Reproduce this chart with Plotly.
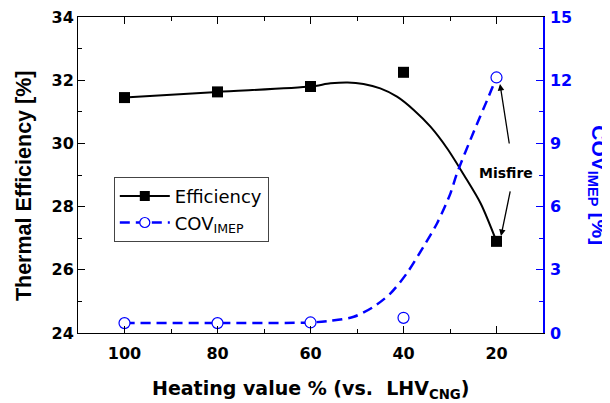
import plotly.graph_objects as go

# Measured data points
heating_value = [100, 80, 60, 40, 20]
efficiency = [31.45, 31.63, 31.8, 32.25, 26.9]
cov_imep = [0.47, 0.47, 0.5, 0.72, 12.13]

# Fitted curves as drawn in the reference
eff_fit_x = [100, 80, 60, 55.7, 52, 48.6, 45, 41.4, 37.8, 34.2, 30.6, 27, 23.4, 20]
eff_fit_y = [31.45, 31.63, 31.8, 31.9, 31.93, 31.88, 31.74, 31.48, 31.06, 30.53, 29.84, 29.0, 28.1, 26.9]
cov_fit_x = [100, 80, 60, 55.7, 50.7, 46.4, 42.8, 39.3, 35.7, 32.8, 29.9, 28.5, 24.9, 22.0, 20]
cov_fit_y = [0.48, 0.48, 0.5, 0.58, 0.77, 1.25, 1.88, 2.83, 4.1, 5.2, 6.63, 7.58, 9.55, 11.06, 12.13]

x_ticks = [100, 80, 60, 40, 20]
y_ticks = [24, 26, 28, 30, 32, 34]
y2_ticks = [0, 3, 6, 9, 12, 15]

FONT_H = "DejaVu Sans, sans-serif"            # horizontal texts
FONT_V = "Liberation Sans, Arial, sans-serif"  # rotated texts
BLUE = "#0000FF"

fig = go.Figure()

fig.add_trace(go.Scatter(x=eff_fit_x, y=eff_fit_y, mode="lines",
                         line=dict(color="black", width=2, shape="spline", smoothing=0.8),
                         showlegend=False, hoverinfo="skip"))
fig.add_trace(go.Scatter(x=cov_fit_x, y=cov_fit_y, mode="lines", yaxis="y2",
                         line=dict(color=BLUE, width=2.5, dash="10px,6px", shape="spline", smoothing=0.8),
                         showlegend=False, hoverinfo="skip"))
fig.add_trace(go.Scatter(x=heating_value, y=efficiency, mode="markers",
                         marker=dict(symbol="square", size=11, color="black"),
                         showlegend=False))
fig.add_trace(go.Scatter(x=heating_value, y=cov_imep, mode="markers", yaxis="y2",
                         marker=dict(symbol="circle", size=11, color="white",
                                     line=dict(color=BLUE, width=1.2)),
                         showlegend=False))

# legend entries
fig.add_trace(go.Scatter(x=[None], y=[None], mode="lines+markers", name="Efficiency",
                         line=dict(color="black", width=2),
                         marker=dict(symbol="square", size=10, color="black")))
fig.add_trace(go.Scatter(x=[None], y=[None], mode="lines+markers", name="COV<sub>IMEP</sub>",
                         yaxis="y2",
                         line=dict(color=BLUE, width=2.5, dash="10px,6px"),
                         marker=dict(symbol="circle", size=10, color="white",
                                     line=dict(color=BLUE, width=1.2))))

tickfont = dict(family=FONT_H, size=16, color="black", weight="bold")

# the page body adds an 8px offset; figure is sized so the plot area lands
# at (78,17)-(543,333) on the 610x403 page
fig.update_layout(
    width=602, height=395,
    margin=dict(l=70, r=67, t=9, b=70),
    paper_bgcolor="white", plot_bgcolor="white",
    font=dict(family=FONT_H, color="black"),
    xaxis=dict(range=[110, 10], tickvals=x_ticks, ticks="inside", ticklen=7,
               tickcolor="black", showline=True, linecolor="black", linewidth=1,
               mirror="ticks", showgrid=False, zeroline=False, tickfont=tickfont,
               ticklabelstandoff=6, ticklabeloverflow="allow", automargin=False,
               minor=dict(ticks="inside", ticklen=4, dtick=10, tick0=10, tickcolor="black")),
    yaxis=dict(range=[24, 34], tickvals=y_ticks, ticks="inside", ticklen=7,
               tickcolor="black", showline=True, linecolor="black", linewidth=1,
               showgrid=False, zeroline=False, tickfont=tickfont,
               ticklabeloverflow="allow", automargin=False,
               minor=dict(ticks="inside", ticklen=4, dtick=1, tick0=24, tickcolor="black")),
    yaxis2=dict(range=[0, 15], tickvals=y2_ticks, ticks="inside", ticklen=7,
                tickcolor=BLUE, showline=True, linecolor=BLUE, linewidth=1.5,
                overlaying="y", side="right", showgrid=False, zeroline=False,
                tickfont=dict(family=FONT_H, size=16, color=BLUE, weight="bold"),
                ticklabelstandoff=2, ticklabeloverflow="allow", automargin=False,
                minor=dict(ticks="inside", ticklen=4, dtick=1.5, tick0=0, tickcolor=BLUE)),
    legend=dict(x=0.077, y=0.494, xanchor="left", yanchor="top",
                bordercolor="#444", borderwidth=1, bgcolor="white", itemwidth=50,
                font=dict(family=FONT_H, size=18, color="black")),
    showlegend=True,
)

annotations = [
    dict(text="<b>Heating value % (vs.&nbsp; LHV<sub>CNG</sub>)</b>", xref="paper", yref="paper",
         x=0.5, y=-0.18, showarrow=False, font=dict(family=FONT_H, size=19, color="black"),
         xanchor="center", yanchor="middle"),
    dict(text="<b>Thermal Efficiency [%]</b>", xref="paper", yref="paper",
         x=-0.116, y=0.465, showarrow=False, textangle=-90,
         font=dict(family=FONT_V, size=21.5, color="black"), xanchor="center", yanchor="middle"),
    dict(text="<b>COV<sub>IMEP</sub> [%]</b>", xref="paper", yref="paper",
         x=1.118, y=0.468, showarrow=False, textangle=90,
         font=dict(family=FONT_V, size=21, color=BLUE), xanchor="center", yanchor="middle"),
    dict(text="<b>Misfire</b>", xref="x", yref="y", x=17.9, y=29.07, showarrow=False,
         font=dict(family=FONT_H, size=14, color="black"), xanchor="center", yanchor="middle"),
    dict(text="", xref="x", yref="y", x=19.25, y=31.88, ax=9.5, ay=61,
         axref="pixel", ayref="pixel", showarrow=True, arrowhead=2, arrowsize=1,
         arrowwidth=1.3, arrowcolor="black", standoff=0),
    dict(text="", xref="x", yref="y", x=19.03, y=27.07, ax=9.5, ay=-46,
         axref="pixel", ayref="pixel", showarrow=True, arrowhead=2, arrowsize=1,
         arrowwidth=1.3, arrowcolor="black", standoff=0),
]
fig.update_layout(annotations=annotations)

fig.write_html("out.html")
